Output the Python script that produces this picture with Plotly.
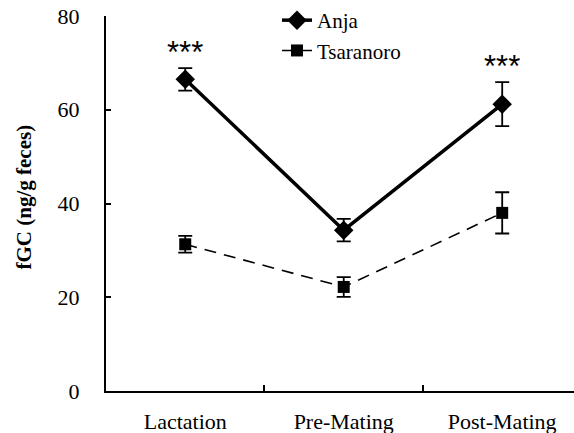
import plotly.graph_objects as go

# Faecal glucocorticoid levels per reproductive phase (mean ± SE)
phases = ["Lactation", "Pre-Mating", "Post-Mating"]
anja_mean = [66.5, 34.3, 61.2]
anja_se = [2.4, 2.4, 4.7]
tsaranoro_mean = [31.3, 22.2, 38.0]
tsaranoro_se = [1.8, 2.1, 4.4]

# phases where the site difference is significant
sig_phases = ["Lactation", "Post-Mating"]
sig_label = "***"

y_ticks = [0, 20, 40, 60, 80]

serif = "Liberation Serif"

fig = go.Figure()

fig.add_trace(go.Scatter(
    x=phases, y=anja_mean, name="Anja", mode="lines+markers",
    line=dict(color="black", width=3.5),
    marker=dict(symbol="diamond", size=15, color="black"),
    error_y=dict(type="data", array=anja_se, visible=True,
                 color="black", thickness=1.8, width=7),
))

fig.add_trace(go.Scatter(
    x=phases, y=tsaranoro_mean, name="Tsaranoro", mode="lines+markers",
    line=dict(color="black", width=1.6, dash="12px,8px"),
    marker=dict(symbol="square", size=12, color="black"),
    error_y=dict(type="data", array=tsaranoro_se, visible=True,
                 color="black", thickness=1.8, width=7),
))

# significance stars above the Anja error bars
for ph in sig_phases:
    i = phases.index(ph)
    fig.add_annotation(
        x=ph, y=anja_mean[i] + anja_se[i], xref="x", yref="y",
        text=sig_label, showarrow=False, yanchor="bottom", yshift=-4,
        font=dict(family="Liberation Sans", size=31, color="black"),
    )

# vertical axis title, set left of the tick labels
fig.add_annotation(
    x=0, xref="paper", xanchor="center", xshift=-83,
    y=0.5, yref="paper", yanchor="middle", yshift=6,
    text="<b>fGC (ng/g feces)</b>", textangle=-90, showarrow=False,
    font=dict(family=serif, size=21, color="black"),
)

fig.update_layout(
    width=574, height=433,
    margin=dict(l=106, r=0, t=16, b=42, autoexpand=False),
    paper_bgcolor="white", plot_bgcolor="white",
    font=dict(family=serif, size=22, color="black"),
    showlegend=True,
    legend=dict(
        x=277 / 574, xref="container", xanchor="left",
        y=1.0, yref="container", yanchor="top",
        bgcolor="rgba(0,0,0,0)", borderwidth=0,
        font=dict(family=serif, size=21, color="black"),
        tracegroupgap=0, itemsizing="trace",
    ),
)

fig.update_xaxes(
    type="category", categoryorder="array", categoryarray=phases,
    range=[-0.5, 2.453],
    showline=True, linecolor="black", linewidth=2,
    showgrid=False, zeroline=False,
    ticks="inside", tickson="boundaries", ticklen=6, tickwidth=1.5,
    tickcolor="black", ticklabelstandoff=10, tickangle=0,
    tickfont=dict(family=serif, size=22),
)

fig.update_yaxes(
    range=[0, 80], tickvals=y_ticks,
    showline=True, linecolor="black", linewidth=2,
    showgrid=False, zeroline=False,
    ticks="inside", ticklen=5, tickwidth=1.5, tickcolor="black",
    ticklabelstandoff=20,
    tickfont=dict(family=serif, size=22),
)

fig.write_html("out.html")
